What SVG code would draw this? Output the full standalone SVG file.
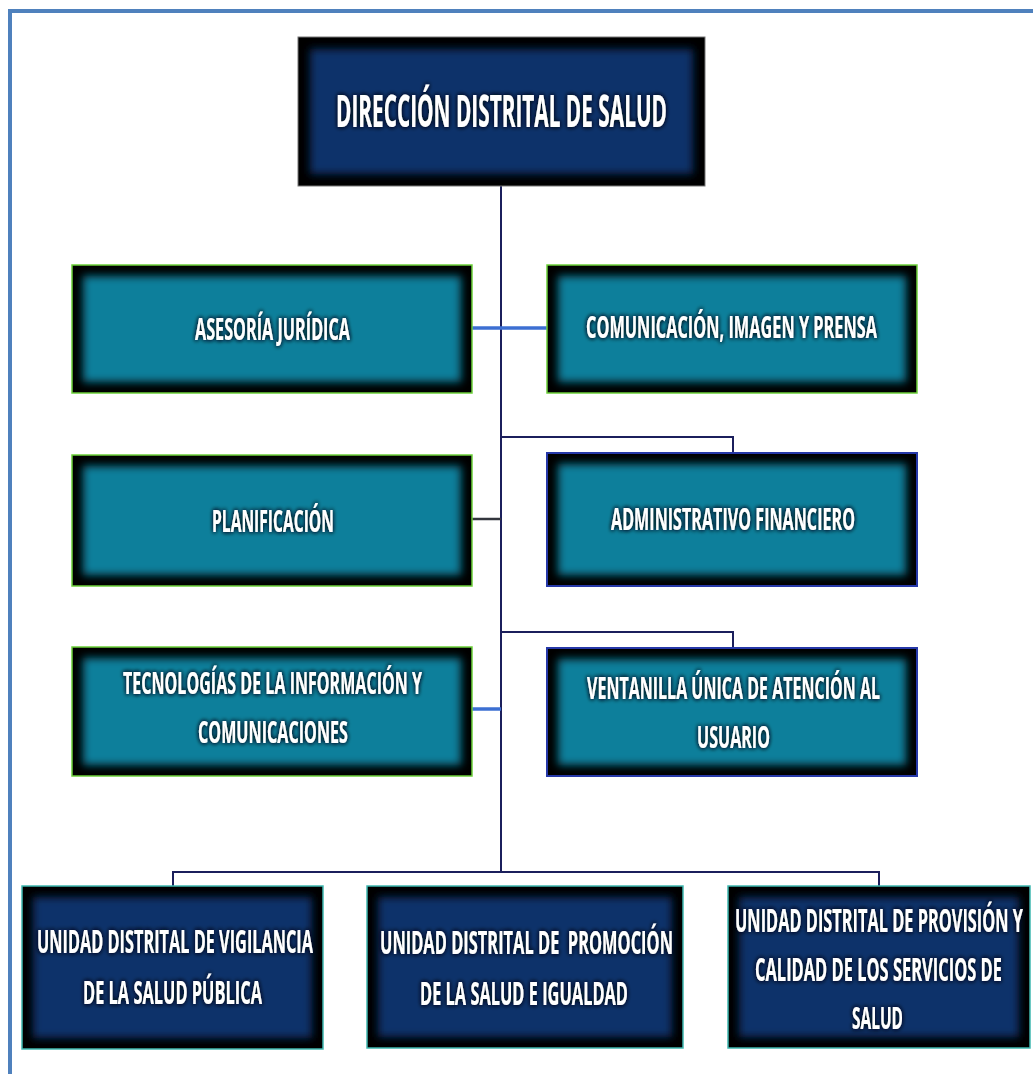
<svg xmlns="http://www.w3.org/2000/svg" width="1033" height="1074" viewBox="0 0 1033 1074">
  <style>
    .base { fill: #000; }
    .teal { fill: #0e7f9b; }
    .navy { fill: #07326a; }
    .green { stroke: #6ccf3a; stroke-width: 1.5; }
    .blue { stroke: #2638a8; stroke-width: 2; }
    .cyan { stroke: #3fb8b0; stroke-width: 1.5; }
    .grey { stroke: #777; stroke-width: 1; }
    .lbl { font-family: "Open Sans", "Liberation Sans", sans-serif; font-weight: bold; fill: #fff; }
    .conn { fill: none; stroke: #1b1f5c; stroke-width: 2; }
    .connblue { fill: none; stroke: #3c6fd2; stroke-width: 3.5; }
    .conngrey { fill: none; stroke: #33363d; stroke-width: 2.5; }
  </style>
  <defs>
    <filter id="soft" x="-10%" y="-10%" width="120%" height="120%">
      <feGaussianBlur stdDeviation="4.5"/>
    </filter>
    <!-- dark halo behind the white labels -->
    <filter id="glow" x="-10%" y="-50%" width="120%" height="200%">
      <feGaussianBlur in="SourceAlpha" stdDeviation="4 2.5" result="b"/>
      <feFlood flood-color="#00121f" flood-opacity="0.9"/>
      <feComposite in2="b" operator="in" result="s"/>
      <feMerge>
        <feMergeNode in="s"/>
        <feMergeNode in="s"/>
        <feMergeNode in="SourceGraphic"/>
      </feMerge>
    </filter>
  </defs>

  <rect width="1033" height="1074" fill="#fff"/>

  <!-- page frame -->
  <path d="M10,1074 V11 H1033" fill="none" stroke="#4f81bd" stroke-width="4"/>

  <!-- connectors -->
  <g id="connectors">
    <path class="conn" d="M501,186 V872"/>
    <path class="connblue" d="M472,328 H547"/>
    <path class="conn" d="M501,437 H733 V453"/>
    <path class="conngrey" d="M472,519 H501"/>
    <path class="conn" d="M501,632 H733 V648"/>
    <path class="connblue" d="M472,709 H501"/>
    <path class="conn" d="M173,886 V872 H879 V886"/>
  </g>

  <!-- labels are drawn at half width: translate(x,y) scale(0.5,1), textLength = 2 × drawn width -->
  <g id="direccion">
    <rect class="base grey" x="298" y="37" width="407" height="149"/>
    <rect class="navy" x="310" y="49" width="383" height="125" filter="url(#soft)"/>
    <text class="lbl" transform="translate(336,127) scale(0.5,1)" font-size="44" textLength="662" lengthAdjust="spacingAndGlyphs" filter="url(#glow)">DIRECCIÓN DISTRITAL DE SALUD</text>
  </g>

  <g id="asesoria">
    <rect class="base green" x="72" y="265" width="400" height="128"/>
    <rect class="teal" x="83" y="276" width="378" height="106" filter="url(#soft)"/>
    <text class="lbl" transform="translate(195,340) scale(0.5,1)" font-size="30" textLength="310" lengthAdjust="spacingAndGlyphs" filter="url(#glow)">ASESORÍA JURÍDICA</text>
  </g>

  <g id="comunicacion">
    <rect class="base green" x="547" y="265" width="370" height="128"/>
    <rect class="teal" x="558" y="276" width="348" height="106" filter="url(#soft)"/>
    <text class="lbl" transform="translate(586,338) scale(0.5,1)" font-size="31" textLength="582" lengthAdjust="spacingAndGlyphs" filter="url(#glow)">COMUNICACIÓN, IMAGEN Y PRENSA</text>
  </g>

  <g id="planificacion">
    <rect class="base green" x="72" y="455" width="400" height="131"/>
    <rect class="teal" x="83" y="466" width="378" height="109" filter="url(#soft)"/>
    <text class="lbl" transform="translate(212,532) scale(0.5,1)" font-size="31" textLength="244" lengthAdjust="spacingAndGlyphs" filter="url(#glow)">PLANIFICACIÓN</text>
  </g>

  <g id="administrativo">
    <rect class="base blue" x="547" y="453" width="370" height="133"/>
    <rect class="teal" x="558" y="464" width="348" height="111" filter="url(#soft)"/>
    <text class="lbl" transform="translate(611,530) scale(0.5,1)" font-size="31" textLength="488" lengthAdjust="spacingAndGlyphs" filter="url(#glow)">ADMINISTRATIVO FINANCIERO</text>
  </g>

  <g id="tecnologias">
    <rect class="base green" x="72" y="647" width="400" height="129"/>
    <rect class="teal" x="83" y="658" width="378" height="107" filter="url(#soft)"/>
    <text class="lbl" transform="translate(123,694) scale(0.5,1)" font-size="31" textLength="598" lengthAdjust="spacingAndGlyphs" filter="url(#glow)">TECNOLOGÍAS DE LA INFORMACIÓN Y</text>
    <text class="lbl" transform="translate(198,743) scale(0.5,1)" font-size="31" textLength="300" lengthAdjust="spacingAndGlyphs" filter="url(#glow)">COMUNICACIONES</text>
  </g>

  <g id="ventanilla">
    <rect class="base blue" x="547" y="648" width="370" height="128"/>
    <rect class="teal" x="558" y="659" width="348" height="106" filter="url(#soft)"/>
    <text class="lbl" transform="translate(587,699) scale(0.5,1)" font-size="31" textLength="586" lengthAdjust="spacingAndGlyphs" filter="url(#glow)">VENTANILLA ÚNICA DE ATENCIÓN AL</text>
    <text class="lbl" transform="translate(697,748) scale(0.5,1)" font-size="31" textLength="146" lengthAdjust="spacingAndGlyphs" filter="url(#glow)">USUARIO</text>
  </g>

  <g id="vigilancia">
    <rect class="base cyan" x="22" y="886" width="301" height="163"/>
    <rect class="navy" x="33" y="897" width="279" height="141" filter="url(#soft)"/>
    <text class="lbl" transform="translate(37,953) scale(0.5,1)" font-size="33" textLength="552" lengthAdjust="spacingAndGlyphs" filter="url(#glow)">UNIDAD DISTRITAL DE VIGILANCIA</text>
    <text class="lbl" transform="translate(83,1004) scale(0.5,1)" font-size="32" textLength="358" lengthAdjust="spacingAndGlyphs" filter="url(#glow)">DE LA SALUD PÚBLICA</text>
  </g>

  <g id="promocion">
    <rect class="base cyan" x="367" y="886" width="316" height="162"/>
    <rect class="navy" x="378" y="897" width="294" height="140" filter="url(#soft)"/>
    <text class="lbl" transform="translate(380,954) scale(0.5,1)" font-size="33" textLength="586" lengthAdjust="spacingAndGlyphs" filter="url(#glow)" xml:space="preserve">UNIDAD DISTRITAL DE  PROMOCIÓN</text>
    <text class="lbl" transform="translate(420,1005) scale(0.5,1)" font-size="33" textLength="416" lengthAdjust="spacingAndGlyphs" filter="url(#glow)">DE LA SALUD E IGUALDAD</text>
  </g>

  <g id="provision">
    <rect class="base cyan" x="728" y="886" width="302" height="162"/>
    <rect class="navy" x="739" y="897" width="280" height="140" filter="url(#soft)"/>
    <text class="lbl" transform="translate(735,932) scale(0.5,1)" font-size="33" textLength="576" lengthAdjust="spacingAndGlyphs" filter="url(#glow)">UNIDAD DISTRITAL DE PROVISIÓN Y</text>
    <text class="lbl" transform="translate(755,981) scale(0.5,1)" font-size="32" textLength="494" lengthAdjust="spacingAndGlyphs" filter="url(#glow)">CALIDAD DE LOS SERVICIOS DE</text>
    <text class="lbl" transform="translate(852,1029) scale(0.5,1)" font-size="31" textLength="102" lengthAdjust="spacingAndGlyphs" filter="url(#glow)">SALUD</text>
  </g>
</svg>
